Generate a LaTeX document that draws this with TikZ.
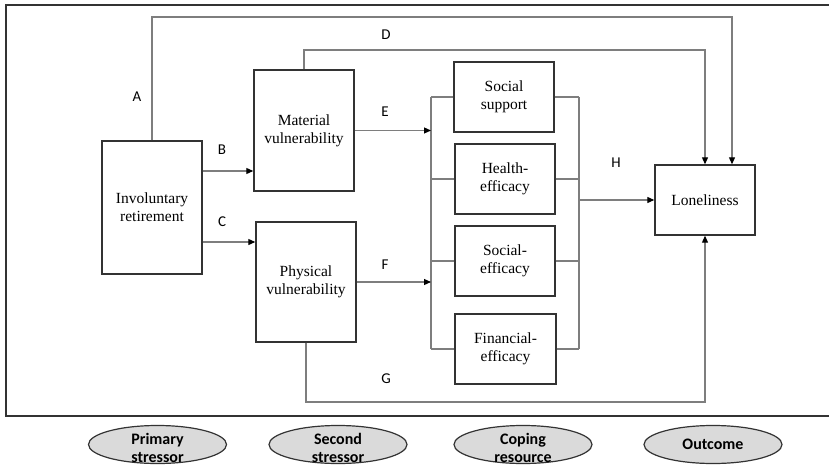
\documentclass[tikz,border=0pt]{standalone}
\usepackage{fontspec}
\setmainfont{Liberation Serif}
\newfontfamily\calfont{Carlito}
\usetikzlibrary{shapes.geometric,arrows.meta}
\definecolor{boxline}{HTML}{333333}
\definecolor{conn}{HTML}{7E7E7E}
\definecolor{ellfill}{HTML}{DADADA}
\tikzset{
  varbox/.style={draw=boxline,line width=1.4pt,fill=white,inner sep=2pt,align=center,
    font=\fontsize{15.5}{18}\selectfont},
  link/.style={draw=conn,line width=1.1pt},
  arr/.style={link,-{Triangle[length=7pt,width=6pt,color=black,fill=black]}},
  lbl/.style={font=\calfont\fontsize{15}{17}\selectfont},
  legend/.style={ellipse,draw=boxline,line width=1.2pt,fill=ellfill,minimum width=138pt,
    minimum height=38pt,inner sep=0pt},
  legtext/.style={align=center,inner sep=0pt,font=\calfont\bfseries\fontsize{16}{18}\selectfont}
}
\begin{document}
\begin{tikzpicture}[x=1pt,y=-1pt]
\clip (0,0) rectangle (829,465);
\fill[white] (0,0) rectangle (829,465);
% frame
\draw[boxline,line width=2pt] (6,5) rectangle (845,416);
% boxes
\node[varbox,minimum width=100pt,minimum height=133pt] (ret) at (152,207.5) {Involuntary\\retirement};
\node[varbox,minimum width=100pt,minimum height=121pt] (mat) at (304,130.5) {Material\\vulnerability};
\node[varbox,minimum width=100pt,minimum height=120pt] (phy) at (306,282) {Physical\\vulnerability};
\node[varbox,minimum width=100pt,minimum height=70pt] (ss) at (504,97) {Social\\support};
\node[varbox,minimum width=100pt,minimum height=70pt] (he) at (505,179) {Health-\\efficacy};
\node[varbox,minimum width=100pt,minimum height=70pt] (se) at (505,261) {Social-\\efficacy};
\node[varbox,minimum width=101pt,minimum height=70pt] (fe) at (505.5,349) {Financial-\\efficacy};
\node[varbox,minimum width=100pt,minimum height=70pt] (lon) at (705,200) {Loneliness};
% helper coordinates
\coordinate (atop) at (732,17);
\coordinate (dtop) at (705,50);
\coordinate (lbt) at (431,97);
\coordinate (lbb) at (431,349);
\coordinate (rbt) at (579,97);
\coordinate (rbb) at (579,349);
\coordinate (bline) at (0,171);
\coordinate (cline) at (0,242);
\coordinate (gbot) at (705,402);
% A
\draw[arr] (ret.north) |- (atop) -- (lon.north -| atop);
% D
\draw[arr] (mat.north) |- (dtop) -- (lon.north);
% B, C
\draw[arr] (ret.east |- bline) -- (mat.west |- bline);
\draw[arr] (ret.east |- cline) -- (phy.west |- cline);
% brackets
\draw[link] (lbt) -- (lbb);
\draw[link] (rbt) -- (rbb);
\draw[link] (ss.west) -- (ss.west -| lbt);
\draw[link] (he.west) -- (he.west -| lbt);
\draw[link] (se.west) -- (se.west -| lbt);
\draw[link] (fe.west) -- (fe.west -| lbt);
\draw[link] (ss.east) -- (ss.east -| rbt);
\draw[link] (he.east) -- (he.east -| rbt);
\draw[link] (se.east) -- (se.east -| rbt);
\draw[link] (fe.east) -- (fe.east -| rbt);
% E, F
\draw[arr] (mat.east) -- (mat.east -| lbt);
\draw[arr] (phy.east) -- (phy.east -| lbt);
% H
\draw[arr] (lon.west -| rbt) -- (lon.west);
% G
\draw[arr] (phy.south) |- (gbot) -- (lon.south);
% labels
\node[lbl] (la) at (137,97) {A};
\node[lbl] (lb) at (222,150) {B};
\node[lbl] (lc) at (222,222) {C};
\node[lbl] (ld) at (386,35) {D};
\node[lbl] (le) at (385,112) {E};
\node[lbl] (lf) at (385,265) {F};
\node[lbl] (lg) at (386,379) {G};
\node[lbl] (lh) at (616,163) {H};
% legend
\node[legend] (e1) at (157.5,444.5) {};
\node[legend] (e2) at (338,444.5) {};
\node[legend] (e3) at (523,444.5) {};
\node[legend] (e4) at (713,444.5) {};
\node[legtext] (t1) at ([yshift=-3pt]e1.center) {Primary\\stressor};
\node[legtext] (t2) at ([yshift=-3pt]e2.center) {Second\\stressor};
\node[legtext] (t3) at ([yshift=-3pt]e3.center) {Coping\\resource};
\node[legtext] (t4) at (e4.center) {Outcome};
\end{tikzpicture}
\end{document}
